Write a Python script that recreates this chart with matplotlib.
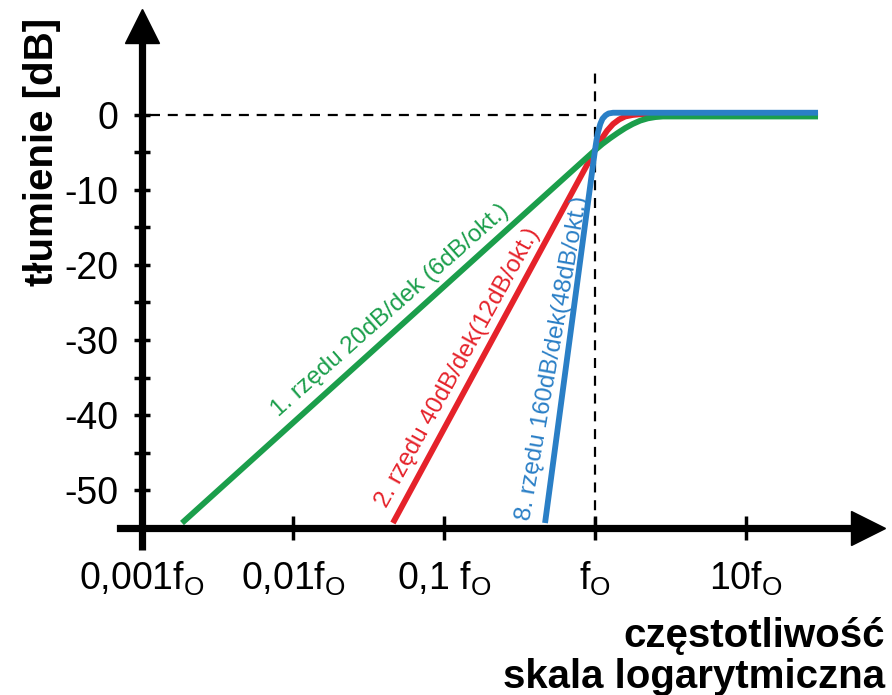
import numpy as np
import matplotlib
matplotlib.use("Agg")
import matplotlib.pyplot as plt
from matplotlib.ticker import FixedLocator, NullLocator

plt.rcParams['font.family'] = ['Liberation Sans', 'DejaVu Sans']
plt.rcParams['mathtext.default'] = 'regular'
plt.rcParams['axes.unicode_minus'] = False

# ---- data (frequency as multiple of f0, attenuation in dB) ----
green_f = [0.00184, 1.0, 1.122, 1.259, 1.413, 1.585, 1.778, 1.995, 2.239, 2.512, 2.818, 30.0]
green_db = [-54.4, -4.7, -3.85, -3.1, -2.4, -1.75, -1.2, -0.75, -0.45, -0.28, -0.2, -0.2]

red_f = [0.0459, 1.0, 1.096, 1.202, 1.318, 1.445, 1.585, 1.778, 1.995, 30.0]
red_db = [-54.4, -4.7, -3.3, -2.1, -1.2, -0.6, -0.2, 0.0, 0.1, 0.1]

blue_f = [0.467, 1.0, 1.023, 1.047, 1.084, 1.122, 1.175, 1.230, 1.318, 30.0]
blue_db = [-54.4, -4.7, -3.4, -2.3, -1.2, -0.5, -0.05, 0.2, 0.3, 0.3]

x_ticks = [0.001, 0.01, 0.1, 1, 10]
x_labels = [r'0,001f$_{O}$', r'0,01f$_{O}$', r'0,1 f$_{O}$', r'f$_{O}$', r'10f$_{O}$']
y_major = [-50, -40, -30, -20, -10, 0]
y_minor = [-45, -35, -25, -15, -5]

green = '#1b9e4b'
red = '#e5222a'
blue = '#2a7fc6'

fig = plt.figure(figsize=(8.92, 6.95), dpi=100)
ax = fig.add_axes([0, 0, 1, 1])
ax.set_xscale('log')
ax.set_xlim(1.147e-4, 92.7)
ax.set_ylim(-77.33, 15.33)
ax.patch.set_visible(False)

# axes drawn as arrows
for s in ['top', 'right']:
    ax.spines[s].set_visible(False)
ax.spines['left'].set_position(('data', 0.001))
ax.spines['bottom'].set_position(('data', -55))
ax.spines['left'].set_bounds(-58, 11.8)
ax.spines['bottom'].set_bounds(7.14e-4, 64.7)
ax.spines['left'].set_linewidth(5.2)
ax.spines['bottom'].set_linewidth(5.2)
ax.spines['left'].set_capstyle('butt')
ax.plot([0.001], [11.8], marker='^', ms=25, color='black', clip_on=False)
ax.plot([64.7], [-55], marker='>', ms=25, color='black', clip_on=False)

ax.xaxis.set_major_locator(FixedLocator(x_ticks))
ax.xaxis.set_minor_locator(NullLocator())
ax.set_xticklabels(x_labels)
ax.yaxis.set_major_locator(FixedLocator(y_major))
ax.yaxis.set_minor_locator(FixedLocator(y_minor))
ax.tick_params(axis='x', which='major', direction='inout', length=17, width=2.5,
               labelsize=27, pad=15)
ax.tick_params(axis='y', which='both', direction='inout', length=12, width=2.5,
               labelsize=27, pad=11)

# guide lines at f0 and 0 dB
ax.plot([0.00113, 1], [0, 0], color='black', lw=1.6, ls=(0, (4.5, 3.5)))
ax.plot([1, 1], [-55, 6], color='black', lw=1.6, ls=(0, (4.5, 3.5)))

ax.plot(red_f, red_db, color=red, lw=4.2, solid_capstyle='butt')
ax.plot(green_f, green_db, color=green, lw=4.2, solid_capstyle='butt')
ax.plot(blue_f, blue_db, color=blue, lw=4.2, solid_capstyle='butt')

ax.text(0.0439, -26, '1. rzędu 20dB/dek (6dB/okt.)', color=green, fontsize=17.5,
        rotation=41.5, ha='center', va='center', rotation_mode='anchor')
ax.text(0.124, -33.7, '2. rzędu 40dB/dek(12dB/okt.)', color=red, fontsize=17.5,
        rotation=61, ha='center', va='center', rotation_mode='anchor')
ax.text(0.527, -32.4, '8. rzędu 160dB/dek(48dB/okt.)', color=blue, fontsize=17.5,
        rotation=80, ha='center', va='center', rotation_mode='anchor')

fig.text(0.047, 0.781, 'tłumienie [dB]', rotation=90, fontsize=29, fontweight='bold',
         ha='center', va='center')
fig.text(0.992, 1 - 647 / 695, 'częstotliwość', fontsize=29, fontweight='bold',
         ha='right', va='baseline')
fig.text(0.992, 1 - 688 / 695, 'skala logarytmiczna', fontsize=29, fontweight='bold',
         ha='right', va='baseline')

fig.savefig('out.png', dpi=100)
